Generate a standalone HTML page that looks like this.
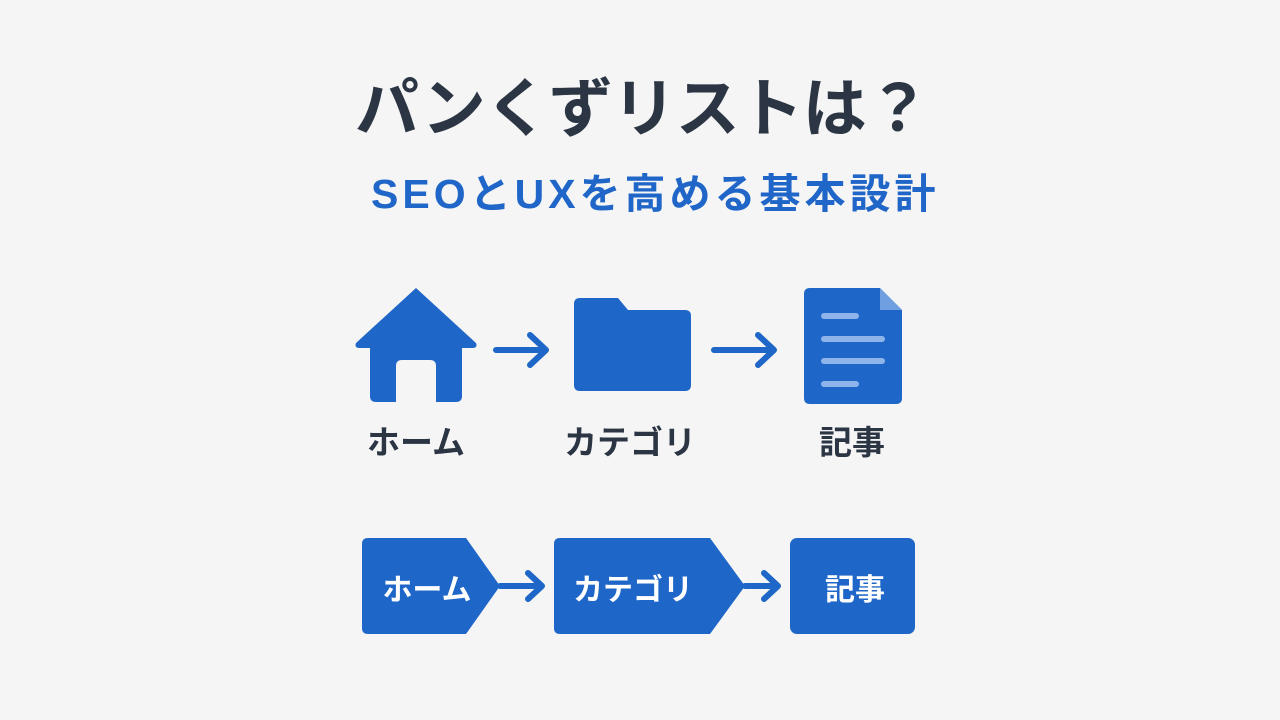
<!DOCTYPE html>
<html><head><meta charset="utf-8"><style>
body{margin:0;width:1280px;height:720px;background:#f5f5f5;overflow:hidden;position:relative;font-family:"Liberation Sans","Noto Sans CJK JP",sans-serif;}
.t{position:absolute;white-space:nowrap;font-weight:700;}
</style></head><body>
<div class="t" style="left:355px;top:58px;font-size:64px;color:#2b3544;letter-spacing:-0.5px;">パンくずリストは？</div>
<div class="t" style="left:371px;top:160px;font-size:41px;color:#1f66c8;letter-spacing:4px;">SEOとUXを高める基本設計</div>
<svg width="1280" height="720" style="position:absolute;left:0;top:0" viewBox="0 0 1280 720">
<g fill="#1e66c7">
<path d="M416 288 L476 343 Q478 348 472 348 L462 348 L462 396 Q462 402 456 402 L436 402 L436 366 Q436 360 430 360 L402 360 Q396 360 396 366 L396 402 L376 402 Q370 402 370 396 L370 348 L360 348 Q354 348 356 343 Z"/>
<path d="M580 298 L618 298 L628 310 L685 310 Q691 310 691 316 L691 385 Q691 391 685 391 L580 391 Q574 391 574 385 L574 304 Q574 298 580 298 Z"/>
<path d="M810 288 L880 288 L902 310 L902 398 Q902 404 896 404 L810 404 Q804 404 804 398 L804 294 Q804 288 810 288 Z"/>
<path d="M368 538 L466 538 L500 586 L466 634 L368 634 Q362 634 362 628 L362 544 Q362 538 368 538 Z"/>
<path d="M560 538 L710 538 L745 586 L710 634 L560 634 Q554 634 554 628 L554 544 Q554 538 560 538 Z"/>
<rect x="790" y="538" width="125" height="96" rx="7"/>
</g>
<path d="M880 288 L880 310 L902 310 Z" fill="#6f9fe0"/>
<g stroke="#8fb4ea" stroke-width="6" stroke-linecap="round">
<line x1="824" y1="316" x2="856" y2="316"/><line x1="824" y1="339" x2="882" y2="339"/>
<line x1="824" y1="361" x2="882" y2="361"/><line x1="824" y1="384" x2="856" y2="384"/>
</g>
<g stroke="#1e66c7" stroke-width="6" fill="none" stroke-linecap="round" stroke-linejoin="round">
<path d="M496 350 L546 350 M530 335 L546 350 L530 365"/>
<path d="M714 350 L774 350 M758 335 L774 350 L758 365"/>
<path d="M500 586 L542 586 M528 573 L542 586 L528 599"/>
<path d="M745 586 L778 586 M764 573 L778 586 L764 599"/>
</g>
</svg>
<div class="t" style="left:366px;top:416px;font-size:33px;color:#2b3544;width:100px;text-align:center;">ホーム</div>
<div class="t" style="left:560px;top:416px;font-size:33px;color:#2b3544;width:140px;text-align:center;">カテゴリ</div>
<div class="t" style="left:802px;top:416px;font-size:33px;color:#2b3544;width:100px;text-align:center;">記事</div>
<div class="t" style="left:372px;top:565px;font-size:30px;color:#fff;width:110px;text-align:center;">ホーム</div>
<div class="t" style="left:568px;top:565px;font-size:30px;color:#fff;width:130px;text-align:center;">カテゴリ</div>
<div class="t" style="left:800px;top:565px;font-size:30px;color:#fff;width:110px;text-align:center;">記事</div>
</body></html>
